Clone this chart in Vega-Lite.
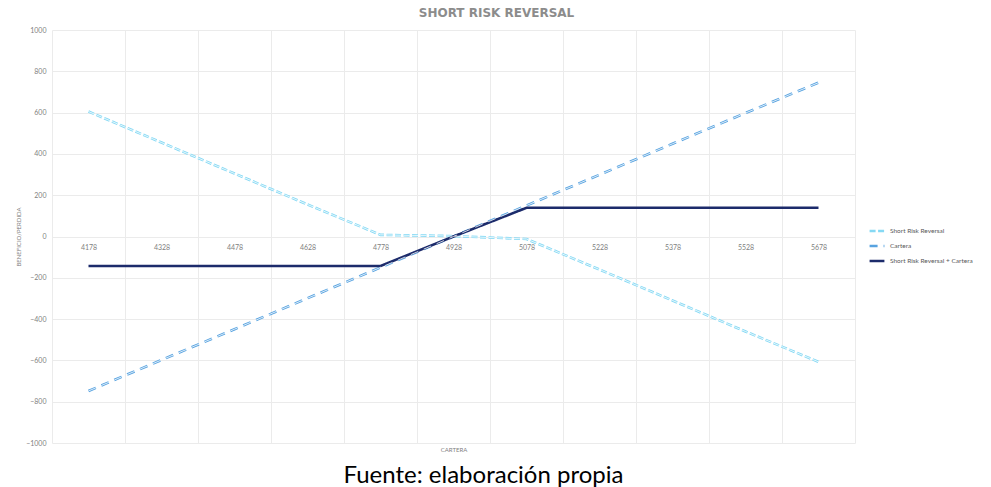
{
  "$schema": "https://vega.github.io/schema/vega-lite/v6.json",
  "width": 803,
  "height": 413,
  "autosize": {"type": "none"},
  "padding": {"left": 52, "top": 30, "right": 136, "bottom": 44},
  "background": "white",
  "config": {"view": {"stroke": null}, "font": "Lato"},
  "title": {"text": "Fuente: elaboración propia", "orient": "bottom", "anchor": "middle", "fontSize": 24, "font": "Lato", "fontWeight": "normal", "color": "#000000", "offset": 12, "dx": 30},
  "data": {"values": [
    {"x": 4178, "serie": "Short Risk Reversal", "v": 605},
    {"x": 4328, "serie": "Short Risk Reversal", "v": 455},
    {"x": 4478, "serie": "Short Risk Reversal", "v": 305},
    {"x": 4628, "serie": "Short Risk Reversal", "v": 155},
    {"x": 4778, "serie": "Short Risk Reversal", "v": 8},
    {"x": 4928, "serie": "Short Risk Reversal", "v": 2},
    {"x": 5078, "serie": "Short Risk Reversal", "v": -12},
    {"x": 5228, "serie": "Short Risk Reversal", "v": -160},
    {"x": 5378, "serie": "Short Risk Reversal", "v": -310},
    {"x": 5528, "serie": "Short Risk Reversal", "v": -460},
    {"x": 5678, "serie": "Short Risk Reversal", "v": -607},
    {"x": 4178, "serie": "Cartera", "v": -748},
    {"x": 4328, "serie": "Cartera", "v": -598},
    {"x": 4478, "serie": "Cartera", "v": -449},
    {"x": 4628, "serie": "Cartera", "v": -299},
    {"x": 4778, "serie": "Cartera", "v": -150},
    {"x": 4928, "serie": "Cartera", "v": 0},
    {"x": 5078, "serie": "Cartera", "v": 150},
    {"x": 5228, "serie": "Cartera", "v": 299},
    {"x": 5378, "serie": "Cartera", "v": 449},
    {"x": 5528, "serie": "Cartera", "v": 598},
    {"x": 5678, "serie": "Cartera", "v": 745},
    {"x": 4178, "serie": "Short Risk Reversal + Cartera", "v": -143},
    {"x": 4328, "serie": "Short Risk Reversal + Cartera", "v": -143},
    {"x": 4478, "serie": "Short Risk Reversal + Cartera", "v": -143},
    {"x": 4628, "serie": "Short Risk Reversal + Cartera", "v": -143},
    {"x": 4778, "serie": "Short Risk Reversal + Cartera", "v": -143},
    {"x": 4928, "serie": "Short Risk Reversal + Cartera", "v": 0},
    {"x": 5078, "serie": "Short Risk Reversal + Cartera", "v": 139},
    {"x": 5228, "serie": "Short Risk Reversal + Cartera", "v": 139},
    {"x": 5378, "serie": "Short Risk Reversal + Cartera", "v": 139},
    {"x": 5528, "serie": "Short Risk Reversal + Cartera", "v": 139},
    {"x": 5678, "serie": "Short Risk Reversal + Cartera", "v": 139}
  ]},
  "resolve": {"axis": {"x": "independent", "y": "independent"}},
  "layer": [
    {
      "mark": {"type": "line", "strokeWidth": 2.6, "clip": false},
      "encoding": {
        "x": {"field": "x", "type": "quantitative",
          "scale": {"domain": [4103, 5753], "nice": false, "zero": false},
          "axis": {"orient": "bottom", "values": [4103, 4253, 4403, 4553, 4703, 4853, 5003, 5153, 5303, 5453, 5603, 5753],
            "labels": false, "ticks": false, "domain": false, "grid": true, "gridColor": "#ebebeb", "gridWidth": 1,
            "title": "CARTERA", "titleFontSize": 6, "titleColor": "#7f7f7f", "titleFontWeight": "normal", "titlePadding": 3}},
        "y": {"field": "v", "type": "quantitative",
          "scale": {"domain": [-1000, 1000], "nice": false},
          "axis": {"values": [-1000, -800, -600, -400, -200, 0, 200, 400, 600, 800, 1000], "format": "d",
            "ticks": false, "domain": false, "grid": true, "gridColor": "#ebebeb", "gridWidth": 1,
            "labelFontSize": 7, "labelColor": "#7f7f7f", "labelPadding": 6,
            "title": "BENEFICIO/PERDIDA", "titleFontSize": 6, "titleColor": "#7f7f7f", "titleFontWeight": "normal",
            "titleX": -34, "titleY": 206.5, "titleAngle": -90, "titleAlign": "center", "titleBaseline": "middle"}},
        "color": {"field": "serie", "type": "nominal",
          "scale": {"domain": ["Short Risk Reversal", "Cartera", "Short Risk Reversal + Cartera"], "range": ["#86d9f4", "#58a3e0", "#1c2b6b"]},
          "legend": {"orient": "none", "legendX": 816, "legendY": 192, "title": null, "symbolType": "stroke", "symbolSize": 220, "symbolStrokeWidth": 2.6,
            "labelFontSize": 6.5, "labelColor": "#595959", "rowPadding": 0, "labelOffset": 4}},
        "strokeDash": {"field": "serie", "type": "nominal",
          "scale": {"domain": ["Short Risk Reversal", "Cartera", "Short Risk Reversal + Cartera"], "range": [[6, 2.5], [8, 6], [1, 0]]}}
      }
    },
    {
      "transform": [{"filter": "datum.serie === 'Short Risk Reversal'"}],
      "mark": {"type": "line", "strokeWidth": 0.8, "color": "#ffffff", "strokeDash": [6, 2.5], "clip": false},
      "encoding": {
        "x": {"field": "x", "type": "quantitative",
          "axis": {"orient": "bottom", "offset": -206.5, "values": [4178, 4328, 4478, 4628, 4778, 4928, 5078, 5228, 5378, 5528, 5678], "format": "d",
            "ticks": false, "domain": false, "grid": false, "labelFontSize": 7, "labelColor": "#7f7f7f", "labelPadding": 7, "title": null}},
        "y": {"field": "v", "type": "quantitative", "axis": null}
      }
    },
    {
      "transform": [{"filter": "datum.serie === 'Cartera'"}],
      "mark": {"type": "line", "strokeWidth": 0.8, "color": "#ffffff", "strokeDash": [8, 6], "clip": false},
      "encoding": {
        "x": {"field": "x", "type": "quantitative",
          "axis": {"orient": "top", "labels": false, "ticks": false, "domain": false, "grid": false,
            "title": "SHORT RISK REVERSAL", "titleFont": "DejaVu Sans", "titleFontSize": 12, "titleFontWeight": "bold", "titleColor": "#8c8c8c",
            "titleX": 444, "titleY": -18, "titleAlign": "center", "titleBaseline": "middle"}},
        "y": {"field": "v", "type": "quantitative", "axis": null}
      }
    }
  ]
}
